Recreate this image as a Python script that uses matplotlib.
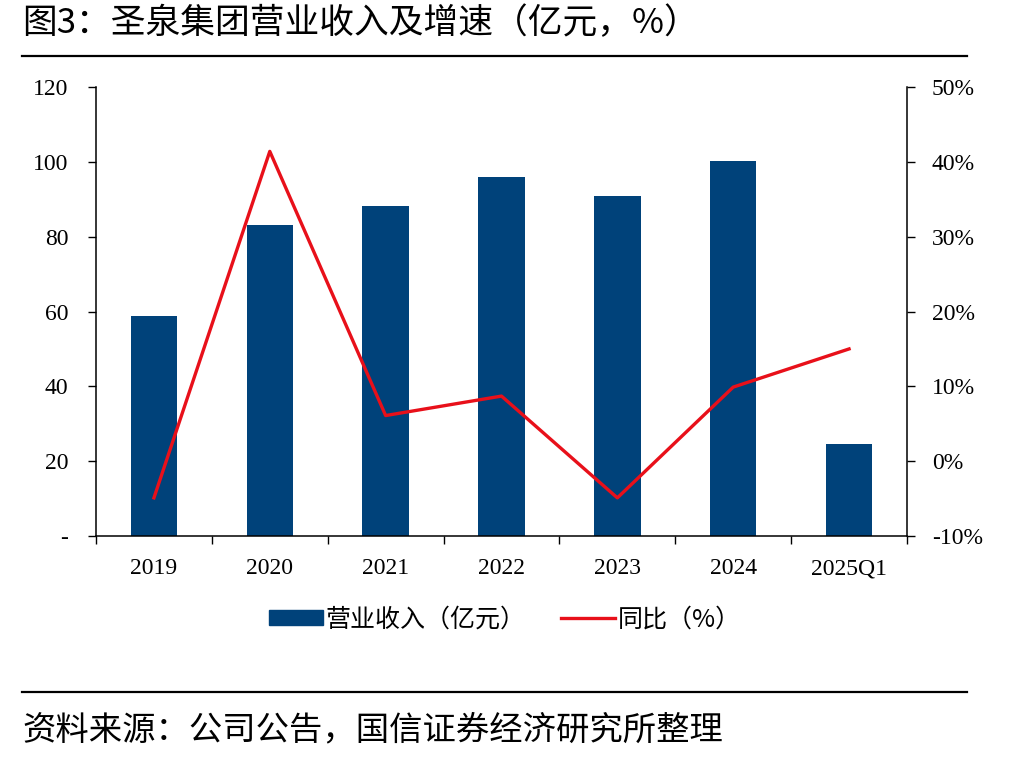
import matplotlib
matplotlib.use("Agg")
import matplotlib.pyplot as plt
from matplotlib.lines import Line2D
from matplotlib.patches import Patch

plt.rcParams['font.family'] = ['Noto Sans CJK SC', 'DejaVu Sans']

years = ['2019', '2020', '2021', '2022', '2023', '2024', '2025Q1']
revenue = [58.8, 83.1, 88.2, 95.9, 90.9, 100.2, 24.6]   # 亿元
growth = [-4.9, 41.4, 6.1, 8.7, -4.9, 9.9, 15.0]        # %

bar_color = '#00427A'
line_color = '#E8101A'
serif = ['Liberation Serif', 'DejaVu Serif']

fig = plt.figure(figsize=(10.16, 7.6), dpi=100)
ax = fig.add_axes([0.0945, 0.2947, 0.7982, 0.5908])
ax2 = ax.twinx()

x = list(range(len(years)))
ax.bar(x, revenue, width=0.4, color=bar_color, zorder=2)
ax2.plot(x, growth, color=line_color, lw=2.4, zorder=3)

ax.set_xlim(-0.5, len(years) - 0.5)
ax.set_ylim(0, 120)
ax.set_yticks([0, 20, 40, 60, 80, 100, 120])
ax.set_yticklabels(['-', '20', '40', '60', '80', '100', '120'], family=serif, fontsize=17)
ax2.set_ylim(-10, 50)
ax2.set_yticks([-10, 0, 10, 20, 30, 40, 50])
ax2.set_yticklabels(['-10%', '0%', '10%', '20%', '30%', '40%', '50%'], family=serif, fontsize=17)

# category ticks on boundaries, labels in the middle
ax.set_xticks([i - 0.5 for i in range(len(years) + 1)])
ax.set_xticklabels([])
ax.set_xticks(x, minor=True)
ax.set_xticklabels(years, minor=True, family=serif, fontsize=17)
ax.tick_params(axis='x', which='minor', length=0, pad=16)
ax.tick_params(axis='x', which='major', length=6, direction='out', width=1)
ax.tick_params(axis='y', length=6, width=1, pad=14)
ax2.tick_params(axis='y', length=6, width=1, pad=12)

for a in (ax, ax2):
    a.spines['top'].set_visible(False)
    for s in ('left', 'right', 'bottom'):
        a.spines[s].set_linewidth(1.1)
ax.spines['right'].set_visible(False)
ax2.spines['left'].set_visible(False)
ax2.spines['bottom'].set_visible(False)

# title and source with rules
fig.text(0.022, 0.969, '图3：圣泉集团营业收入及增速（亿元，%）', fontsize=25, va='center', ha='left')
fig.add_artist(Line2D([0.022, 0.952], [0.926, 0.926], color='black', lw=1.6))
fig.add_artist(Line2D([0.022, 0.952], [0.089, 0.089], color='black', lw=1.6))
fig.text(0.022, 0.040, '资料来源：公司公告，国信证券经济研究所整理', fontsize=24, va='center', ha='left')

handles = [Patch(color=bar_color), Line2D([], [], color=line_color, lw=2.4)]
fig.legend(handles, ['营业收入（亿元）', '同比（%）'], loc='center', bbox_to_anchor=(0.497, 0.185),
           ncol=2, frameon=False, fontsize=18, handlelength=2.15, handleheight=0.5,
           handletextpad=0.12, columnspacing=1.4)

fig.savefig('out.png', dpi=100)
